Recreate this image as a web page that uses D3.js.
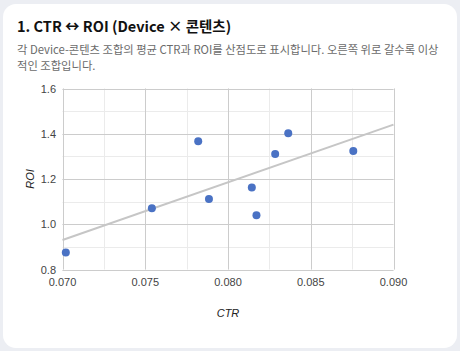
<!DOCTYPE html>
<html><head><meta charset="utf-8">
<script src="https://cdn.jsdelivr.net/npm/d3@7"></script>
<style>
html,body{margin:0;padding:0;background:#eceef3;width:460px;height:351px;overflow:hidden}
</style></head>
<body>
<svg id="c" width="460" height="351"></svg>
<script>
const title = "1. CTR ↔ ROI (Device × 콘텐츠)";
const subtitleLines = ["각 Device-콘텐츠 조합의 평균 CTR과 ROI를 산점도로 표시합니다. 오른쪽 위로 갈수록 이상", "적인 조합입니다."];
const ctr = [0.0702, 0.0754, 0.0782, 0.07885, 0.08144, 0.08172, 0.08285, 0.08364, 0.08757];
const roi = [0.875, 1.071, 1.367, 1.112, 1.162, 1.040, 1.311, 1.402, 1.324];
const xTicks = [0.070, 0.075, 0.080, 0.085, 0.090];
const yTicks = [0.8, 1.0, 1.2, 1.4, 1.6];
const xLabel = "CTR", yLabel = "ROI";

const svg = d3.select("#c");
svg.append("rect").attr("x",3).attr("y",4).attr("width",454).attr("height",344).attr("rx",13).attr("fill","#fff");
svg.append("text").attr("x",17).attr("y",32).attr("font-family","'Noto Sans CJK KR','Noto Sans',sans-serif")
  .attr("font-weight","bold").attr("font-size",14.5).attr("fill","#111").text(title);
subtitleLines.forEach((l,i)=>svg.append("text").attr("x",17).attr("y",54+i*16)
  .attr("font-family","'Noto Sans CJK KR','Noto Sans',sans-serif").attr("font-size",11.3).attr("fill","#6b6b6b").text(l));

const L=62.5,R=393.5,T=88.5,B=269.5;
const x=d3.scaleLinear().domain([0.07,0.09]).range([L,R]);
const y=d3.scaleLinear().domain([0.8,1.6]).range([B,T]);
const g=svg.append("g");
const minorX=d3.range(0,9).map(i=>0.07+i*0.0025);
const minorY=d3.range(0,9).map(i=>0.8+i*0.1);
minorX.forEach(v=>g.append("line").attr("x1",Math.round(x(v))+0.5).attr("x2",Math.round(x(v))+0.5).attr("y1",T).attr("y2",B).attr("stroke","#ebebeb"));
minorY.forEach(v=>g.append("line").attr("y1",Math.round(y(v))+0.5).attr("y2",Math.round(y(v))+0.5).attr("x1",L).attr("x2",R).attr("stroke","#ebebeb"));
xTicks.forEach(v=>g.append("line").attr("x1",Math.round(x(v))+0.5).attr("x2",Math.round(x(v))+0.5).attr("y1",T).attr("y2",B).attr("stroke","#cccccc"));
yTicks.forEach(v=>g.append("line").attr("y1",Math.round(y(v))+0.5).attr("y2",Math.round(y(v))+0.5).attr("x1",L).attr("x2",R).attr("stroke","#cccccc"));

const font="Arial,'Liberation Sans',sans-serif";
xTicks.forEach(v=>g.append("text").attr("x",x(v)).attr("y",286).attr("text-anchor","middle")
  .attr("font-family",font).attr("font-size",11).attr("fill","#444").text(d3.format(".3f")(v)));
yTicks.forEach(v=>g.append("text").attr("x",56).attr("y",y(v)+4).attr("text-anchor","end")
  .attr("font-family",font).attr("font-size",11).attr("fill","#444").text(d3.format(".1f")(v)));
svg.append("text").attr("x",(L+R)/2).attr("y",317).attr("text-anchor","middle").attr("font-family",font)
  .attr("font-style","italic").attr("font-size",11).attr("fill","#222").text(xLabel);
svg.append("text").attr("transform",`translate(34,${(T+B)/2}) rotate(-90)`).attr("text-anchor","middle").attr("font-family",font)
  .attr("font-style","italic").attr("font-size",11).attr("fill","#222").text(yLabel);

// linear regression trendline
const mx=d3.mean(ctr), my=d3.mean(roi);
let sxy=0,sxx=0;
ctr.forEach((c,i)=>{sxy+=(c-mx)*(roi[i]-my);sxx+=(c-mx)*(c-mx);});
const slope=sxy/sxx, icpt=my-slope*mx;
const dom=x.domain();
g.append("line").attr("x1",x(dom[0])).attr("y1",y(icpt+slope*dom[0])).attr("x2",x(dom[1])).attr("y2",y(icpt+slope*dom[1]))
  .attr("stroke","#c6c6c6").attr("stroke-width",2);

ctr.forEach((c,i)=>g.append("circle").attr("cx",x(c)).attr("cy",y(roi[i])).attr("r",4).attr("fill","#4a72c4"));
</script>
</body></html>
